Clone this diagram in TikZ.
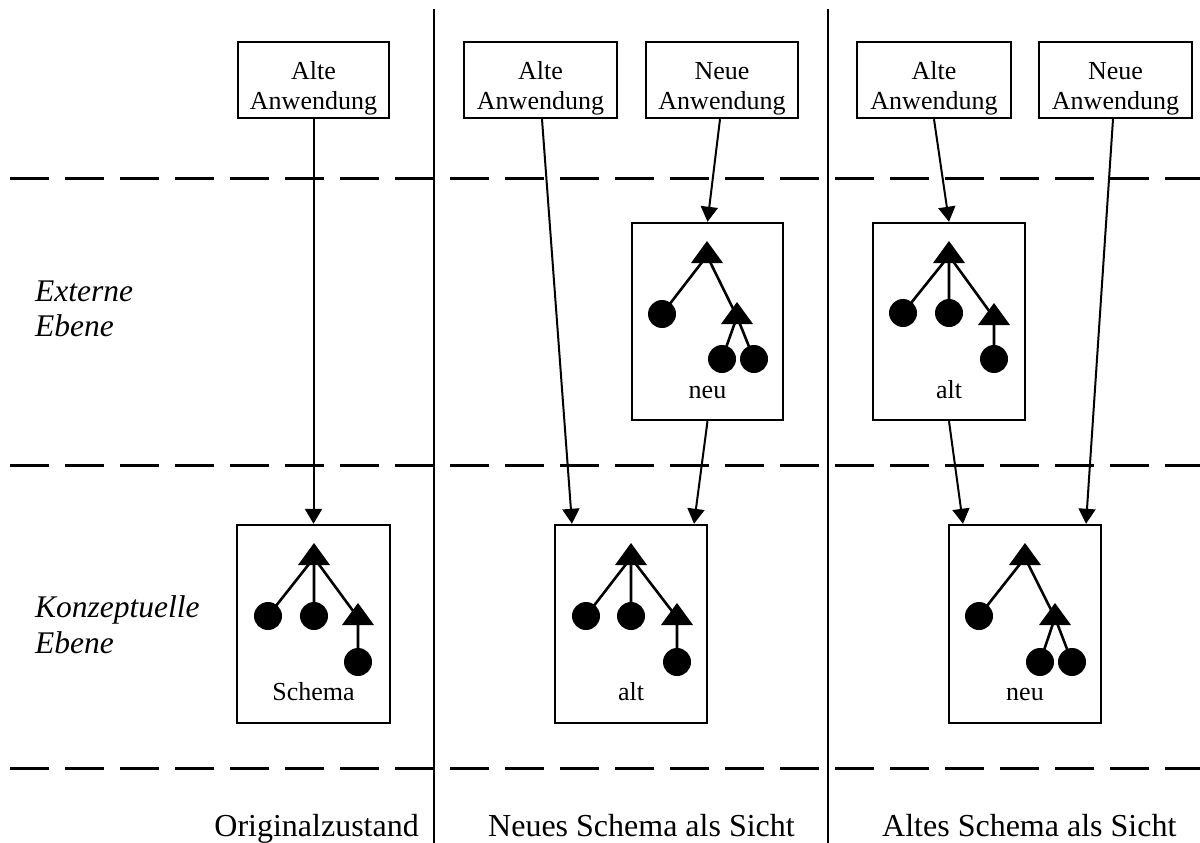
\documentclass[tikz,border=0pt]{standalone}
\usepackage{fontspec}
\setmainfont{Liberation Serif}
\usetikzlibrary{arrows.meta}
\tikzset{
  appbox/.style={draw, line width=2.4pt, inner sep=0pt, fill=white},
  boxtxt/.style={anchor=base, inner sep=0pt, font=\fontsize{26}{30}\selectfont},
  lvltxt/.style={anchor=base west, inner sep=0pt, font=\fontsize{31.5}{36}\selectfont\itshape},
  captxt/.style={inner sep=0pt, font=\fontsize{32}{36}\selectfont},
  arr/.style={line width=2pt, -{Triangle[length=15pt,width=17pt]}},
  sepline/.style={line width=2pt},
  lvlline/.style={line width=3pt, dash pattern=on 39pt off 16pt},
  treedot/.style={circle, fill=black, minimum size=28pt, inner sep=0pt},
  treeedge/.style={line width=2.6pt},
}
% filled triangle around a centroid coordinate
\newcommand\trishape[1]{\fill (#1) ++(0,-14.7) -- ++(16,22) -- ++(-32,0) -- cycle;}
\begin{document}
\begin{tikzpicture}[x=1pt,y=-1pt]
\useasboundingbox (0,0) rectangle (1200,843);

% level lines and separators
\draw[lvlline] (10,178) -- (1200,178);
\draw[lvlline] (10,465) -- (1200,465);
\draw[lvlline] (10,768) -- (1200,768);
\draw[sepline] (434,9) -- (434,843);
\draw[sepline] (828,9) -- (828,843);

% level labels
\node[lvltxt] (ext1) at (35,301) {Externe};
\node[lvltxt] (ext2) at (35,336) {Ebene};
\node[lvltxt] (kon1) at (35,617) {Konzeptuelle};
\node[lvltxt] (kon2) at (35,653) {Ebene};

% application boxes
\node[appbox, minimum width=151pt, minimum height=76pt] (a1) at (313.5,80) {};
\node[boxtxt] (a1t1) at (313.5,80) {Alte};
\node[boxtxt] (a1t2) at (313.5,110) {Anwendung};
\node[appbox, minimum width=153pt, minimum height=76pt] (a2) at (540.5,80) {};
\node[boxtxt] (a2t1) at (540.5,80) {Alte};
\node[boxtxt] (a2t2) at (540.5,110) {Anwendung};
\node[appbox, minimum width=152pt, minimum height=76pt] (n2) at (722,80) {};
\node[boxtxt] (n2t1) at (722,80) {Neue};
\node[boxtxt] (n2t2) at (722,110) {Anwendung};
\node[appbox, minimum width=154pt, minimum height=76pt] (a3) at (934,80) {};
\node[boxtxt] (a3t1) at (934,80) {Alte};
\node[boxtxt] (a3t2) at (934,110) {Anwendung};
\node[appbox, minimum width=153pt, minimum height=76pt] (n3) at (1115.5,80) {};
\node[boxtxt] (n3t1) at (1115.5,80) {Neue};
\node[boxtxt] (n3t2) at (1115.5,110) {Anwendung};

% schema boxes
\node[appbox, minimum width=151pt, minimum height=197pt] (xneu) at (707.5,321.5) {};
\node[appbox, minimum width=152pt, minimum height=197pt] (xalt) at (949,321.5) {};
\node[appbox, minimum width=153pt, minimum height=198pt] (ksch) at (313.5,624) {};
\node[appbox, minimum width=152pt, minimum height=198pt] (kalt) at (631,624) {};
\node[appbox, minimum width=152pt, minimum height=198pt] (kneu) at (1025,624) {};

\node[boxtxt] (xneut) at (707.5,398) {neu};
\node[boxtxt] (xaltt) at (949,398) {alt};
\node[boxtxt] (kscht) at (313.5,700) {Schema};
\node[boxtxt] (kaltt) at (631,700) {alt};
\node[boxtxt] (kneut) at (1025,700) {neu};

% arrows
\draw[arr] (a1.south) -- (ksch.north);
\draw[arr] ([xshift=1.5pt]a2.south) -- ([xshift=-59pt]kalt.north);
\draw[arr] ([xshift=-2pt]n2.south) -- (xneu.north);
\draw[arr] (xneu.south) -- ([xshift=63pt]kalt.north);
\draw[arr] (a3.south) -- (xalt.north);
\draw[arr] (xalt.south) -- ([xshift=-62pt]kneu.north);
\draw[arr] ([xshift=-2.5pt]n3.south) -- ([xshift=61pt]kneu.north);

% ---- trees ----
% Schema (Originalzustand)
\coordinate (s0) at (314,557.7);
\coordinate (s1) at (268,616);
\coordinate (s2) at (314,616);
\coordinate (s3) at (358,617.7);
\coordinate (s4) at (358,662);
\draw[treeedge] (s0) -- (s1) (s0) -- (s2) (s0) -- (s3) (s3) -- (s4);
\trishape{s0}\trishape{s3}
\node[treedot] (s1d) at (s1) {};
\node[treedot] (s2d) at (s2) {};
\node[treedot] (s4d) at (s4) {};

% alt (konzeptuell, Mitte)
\coordinate (m0) at (631,557.7);
\coordinate (m1) at (586,616);
\coordinate (m2) at (631,616);
\coordinate (m3) at (677,617.7);
\coordinate (m4) at (677,662);
\draw[treeedge] (m0) -- (m1) (m0) -- (m2) (m0) -- (m3) (m3) -- (m4);
\trishape{m0}\trishape{m3}
\node[treedot] (m1d) at (m1) {};
\node[treedot] (m2d) at (m2) {};
\node[treedot] (m4d) at (m4) {};

% neu (konzeptuell, rechts)
\coordinate (r0) at (1025,557.7);
\coordinate (r1) at (979,616);
\coordinate (r3) at (1055,617.7);
\coordinate (r4) at (1040,662);
\coordinate (r5) at (1072,662);
\draw[treeedge] (r0) -- (r1) (r0) -- (r3) (r3) -- (r4) (r3) -- (r5);
\trishape{r0}\trishape{r3}
\node[treedot] (r1d) at (r1) {};
\node[treedot] (r4d) at (r4) {};
\node[treedot] (r5d) at (r5) {};

% neu (extern, Mitte)
\coordinate (u0) at (707,255.7);
\coordinate (u1) at (662,314);
\coordinate (u3) at (737,316.7);
\coordinate (u4) at (722,359);
\coordinate (u5) at (754,359);
\draw[treeedge] (u0) -- (u1) (u0) -- (u3) (u3) -- (u4) (u3) -- (u5);
\trishape{u0}\trishape{u3}
\node[treedot] (u1d) at (u1) {};
\node[treedot] (u4d) at (u4) {};
\node[treedot] (u5d) at (u5) {};

% alt (extern, rechts)
\coordinate (v0) at (949,255.7);
\coordinate (v1) at (903,313);
\coordinate (v2) at (949,313);
\coordinate (v3) at (994,317.7);
\coordinate (v4) at (994,359);
\draw[treeedge] (v0) -- (v1) (v0) -- (v2) (v0) -- (v3) (v3) -- (v4);
\trishape{v0}\trishape{v3}
\node[treedot] (v1d) at (v1) {};
\node[treedot] (v2d) at (v2) {};
\node[treedot] (v4d) at (v4) {};

% bottom captions
\node[captxt, anchor=base east] (c1) at (419,836) {Originalzustand};
\node[captxt, anchor=base west] (c2) at (488,836) {Neues Schema als Sicht};
\node[captxt, anchor=base west] (c3) at (882,836) {Altes Schema als Sicht};
\end{tikzpicture}
\end{document}
